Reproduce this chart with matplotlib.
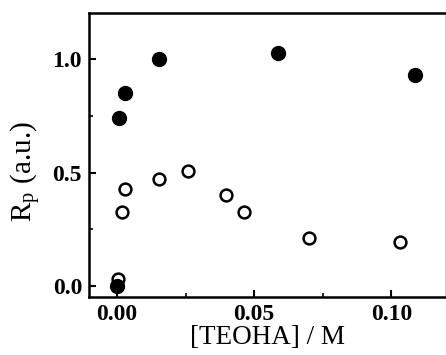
import matplotlib
matplotlib.use("Agg")
import matplotlib.pyplot as plt
from matplotlib.ticker import MultipleLocator

# filled circles
filled_x = [0.0, 0.0008, 0.003, 0.0152, 0.0587, 0.1088]
filled_y = [0.0, 0.739, 0.852, 1.001, 1.028, 0.931]

# open circles
open_x = [0.0005, 0.0019, 0.0028, 0.0154, 0.0259, 0.0398, 0.0464, 0.0701, 0.1032]
open_y = [0.031, 0.327, 0.427, 0.471, 0.508, 0.401, 0.327, 0.213, 0.195]

x_ticks = [0.00, 0.05, 0.10]
x_ticklabels = ["0.00", "0.05", "0.10"]
y_ticks = [0.0, 0.5, 1.0]
y_ticklabels = ["0.0", "0.5", "1.0"]

plt.rcParams['font.family'] = ['Liberation Serif', 'DejaVu Serif']
plt.rcParams['mathtext.fontset'] = 'stix'

fig = plt.figure(figsize=(4.46, 3.55), dpi=100)
ax = fig.add_axes([0.1996, 0.1634, 0.7982, 0.8])

ax.plot(open_x, open_y, 'o', mfc='white', mec='black', mew=1.8, ms=8.5, ls='none')
ax.plot(filled_x, filled_y, 'o', color='black', ms=10, ls='none')

ax.set_xlim(-0.0102, 0.1196)
ax.set_ylim(-0.048, 1.203)

ax.set_xticks(x_ticks)
ax.set_xticklabels(x_ticklabels, fontsize=17, fontweight='bold')
ax.set_yticks(y_ticks)
ax.set_yticklabels(y_ticklabels, fontsize=17, fontweight='bold')
ax.xaxis.set_minor_locator(MultipleLocator(0.025))
ax.yaxis.set_minor_locator(MultipleLocator(0.25))
ax.tick_params(which='major', direction='in', length=5, width=1.5, pad=5)
ax.tick_params(which='minor', direction='in', length=3, width=1.2)

for side in ['left', 'bottom', 'top']:
    ax.spines[side].set_linewidth(1.8)
ax.spines['right'].set_linewidth(0.8)
ax.spines['right'].set_color('#cccccc')

ax.set_xlabel('[TEOHA] / M', fontsize=19.5, labelpad=0)
ax.set_ylabel(r'R$_\mathregular{p}$ (a.u.)', fontsize=21)
ax.yaxis.set_label_coords(-0.13, 0.44)

fig.savefig('out.png', dpi=100)
